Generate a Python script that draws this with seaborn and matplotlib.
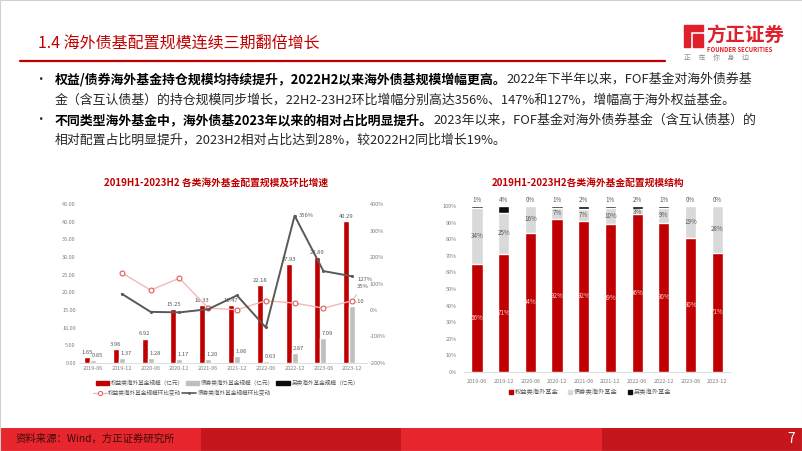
import numpy as np
import pandas as pd
import matplotlib
matplotlib.use('Agg')
import matplotlib.pyplot as plt
import seaborn as sns
from matplotlib.patches import Rectangle, Polygon
from matplotlib.lines import Line2D
from matplotlib.ticker import FuncFormatter

# data
periods = ['2019-06', '2019-12', '2020-06', '2020-12', '2021-06',
           '2021-12', '2022-06', '2022-12', '2023-06', '2023-12']
equity_size = [1.65, 3.96, 6.92, 15.25, 16.33, 16.47, 22.18, 27.93, 29.89, 40.29]
bond_size = [0.85, 1.37, 1.28, 1.17, 1.20, 1.86, 0.63, 2.87, 7.09, 16.10]
other_size = [0.03, 0.22, 0.02, 0.10, 0.36, 0.18, 0.40, 0.30, 0.05, 0.05]
equity_qoq = [np.nan, 140, 75, 120, 7, 1, 35, 26, 7, 35]
bond_qoq = [np.nan, 61, -7, -9, 3, 55, -66, 356, 147, 127]
equity_share = [66, 71, 84, 92, 92, 89, 96, 90, 80, 71]
bond_share = [34, 25, 16, 7, 7, 10, 3, 9, 19, 28]
other_share = [1, 4, 0, 1, 2, 1, 2, 1, 0, 0]

size_names = ['权益类海外基金规模（亿元）', '债券类海外基金规模（亿元）', '另类海外基金规模（亿元）']
qoq_names = ['权益类海外基金规模环比变动', '债券类海外基金规模环比变动']
share_names = ['权益类海外基金', '债券类海外基金', '另类海外基金']

RED = '#c00000'
GREY = '#bfbfbf'
LIGHT = '#d9d9d9'
BLACK = '#0d0d0d'
TICK = '#7f7f7f'

sns.set_theme(style='white')
plt.rcParams['font.family'] = ['Noto Sans CJK SC', 'DejaVu Sans']
plt.rcParams['axes.unicode_minus'] = False

W, H = 802, 451
fig = plt.figure(figsize=(W / 100, H / 100), dpi=100)
fig.patch.set_facecolor('white')


def fx(px):
    return px / W


def fy(py):
    return 1 - py / H


# ---- header ----
fig.text(fx(38), fy(44), '1.4 海外债基配置规模连续三期翻倍增长', color=RED, fontsize=11.5, va='center')
fig.add_artist(Line2D([fx(20), fx(665)], [fy(61), fy(61)], color=RED, lw=1.6))
fig.add_artist(Polygon([(fx(684), fy(25)), (fx(703), fy(25)), (fx(703), fy(31)), (fx(690), fy(31)),
                        (fx(690), fy(47)), (fx(684), fy(47))], closed=True, color='#e0202a'))
fig.add_artist(Polygon([(fx(693), fy(34)), (fx(703), fy(34)), (fx(703), fy(47)), (fx(693), fy(47))],
                       closed=True, color='#e0202a'))
fig.text(fx(706), fy(35), '方正证券', color='#e0202a', fontsize=14, fontweight='bold', va='center')
fig.text(fx(707), fy(49), 'FOUNDER SECURITIES', color='#e0202a', fontsize=4.3, fontweight='bold', va='center')
fig.text(fx(684), fy(58), '正     在     你     身     边', color='#8c8c8c', fontsize=5, va='center')

# ---- bullets ----
renderer = fig.canvas.get_renderer()


def rich_line(px, py, parts, size=9.3):
    x = fx(px)
    for s, bold in parts:
        t = fig.text(x, fy(py), s, fontsize=size, fontweight='bold' if bold else 'normal',
                     color='#000000' if bold else '#262626', va='center')
        x = t.get_window_extent(renderer=renderer).x1 / W


for py in (79, 120):
    fig.text(fx(34), fy(py), '•', fontsize=9, va='center', color='#262626')
rich_line(55, 79, [('权益/债券海外基金持仓规模均持续提升，2022H2以来海外债基规模增幅更高。', True),
                   ('2022年下半年以来，FOF基金对海外债券基', False)])
rich_line(55, 100, [('金（含互认债基）的持仓规模同步增长，22H2-23H2环比增幅分别高达356%、147%和127%，增幅高于海外权益基金。', False)])
rich_line(55, 120, [('不同类型海外基金中，海外债基2023年以来的相对占比明显提升。', True),
                    ('2023年以来，FOF基金对海外债券基金（含互认债基）的', False)])
rich_line(55, 140, [('相对配置占比明显提升，2023H2相对占比达到28%，较2022H2同比增长19%。', False)])

# ---- left chart: sizes + qoq ----
fig.text(fx(216), fy(183), '2019H1-2023H2 各类海外基金配置规模及环比增速', color=RED,
         fontsize=7, fontweight='bold', ha='center', va='center')
size_df = pd.DataFrame({
    'period': periods * 3,
    'type': [size_names[0]] * 10 + [size_names[1]] * 10 + [size_names[2]] * 10,
    'value': equity_size + bond_size + other_size,
})
ax1 = fig.add_axes([fx(78.6), fy(363), 288 / W, 159 / H])
sns.barplot(data=size_df, x='period', y='value', hue='type', hue_order=size_names,
            palette=[RED, GREY, BLACK], width=0.62, saturation=1, legend=False, ax=ax1)
ax1.set_ylim(0, 45)
ax1.set_yticks(np.arange(0, 46, 5))
ax1.yaxis.set_major_formatter(FuncFormatter(lambda v, p: f'{v:.2f}'))
ax1.set_xlabel('')
ax1.set_ylabel('')
ax1.bar_label(ax1.containers[0], labels=[f'{v:.2f}' for v in equity_size], fontsize=4.2,
              color='#595959', padding=1.5)
for bar, v in zip(ax1.containers[1], bond_size):
    ax1.annotate(f'{v:.2f}', (bar.get_x() + bar.get_width() / 2, bar.get_height()), xytext=(3, 1.5),
                 textcoords='offset points', ha='center', va='bottom', fontsize=4.2, color='#595959')

ax2 = ax1.twinx()
idx = np.arange(len(periods))
sns.lineplot(x=idx[1:], y=equity_qoq[1:], ax=ax2, color='#f4b8b8', lw=1, marker='o', markersize=3.5,
             markerfacecolor='white', markeredgecolor='#e05a5a', markeredgewidth=0.8)
sns.lineplot(x=idx[1:], y=bond_qoq[1:], ax=ax2, color='#595959', lw=1.4, marker='o', markersize=2.2,
             markeredgewidth=0)
ax2.set_ylim(-200, 400)
ax2.set_yticks(np.arange(-200, 401, 100))
ax2.yaxis.set_major_formatter(FuncFormatter(lambda v, p: f'{v:.0f}%'))
ax2.set_xlim(-0.5, len(periods) - 0.5)
ax2.annotate(f'{bond_qoq[7]}%', (7, bond_qoq[7]), xytext=(3, 0), textcoords='offset points',
             fontsize=4.2, color='#595959', va='center')
ax2.annotate(f'{bond_qoq[9]}%', (9, bond_qoq[9]), xytext=(4, -2), textcoords='offset points',
             fontsize=4.2, color='#595959', va='center')
ax2.annotate(f'{equity_qoq[9]}%', (9, equity_qoq[9]), xytext=(9.35, 88), textcoords='data',
             fontsize=4.2, color='#595959', va='center', ha='center',
             arrowprops=dict(arrowstyle='-', color='#a6a6a6', lw=0.5))

for ax in (ax1, ax2):
    for s in ax.spines.values():
        s.set_visible(False)
    ax.tick_params(axis='both', length=0, labelsize=4, labelcolor=TICK, pad=2)
ax1.spines['bottom'].set_visible(True)
ax1.spines['bottom'].set_color(LIGHT)
ax1.spines['bottom'].set_linewidth(0.6)

h_size = [Rectangle((0, 0), 1, 1, color=c) for c in (RED, GREY, BLACK)]
fig.legend(h_size, size_names, loc='center left', bbox_to_anchor=(fx(96), fy(383)), ncol=3,
           frameon=False, fontsize=4.1, handlelength=2.3, handleheight=0.8, columnspacing=0.4,
           handletextpad=0.3, labelcolor='#595959', borderaxespad=0, borderpad=0)
h_qoq = [Line2D([], [], color='#f4b8b8', lw=1, marker='o', markersize=3, markerfacecolor='white',
                markeredgecolor='#e05a5a', markeredgewidth=0.7),
         Line2D([], [], color='#595959', lw=1.2, marker='o', markersize=2, markeredgewidth=0)]
fig.legend(h_qoq, qoq_names, loc='center left', bbox_to_anchor=(fx(93), fy(393)), ncol=2,
           frameon=False, fontsize=4.1, handlelength=2.4, columnspacing=0.1,
           handletextpad=0.3, labelcolor='#595959', borderaxespad=0, borderpad=0)

# ---- right chart: structure ----
fig.text(fx(588), fy(183), '2019H1-2023H2各类海外基金配置规模结构', color=RED,
         fontsize=7, fontweight='bold', ha='center', va='center')
share = pd.DataFrame({'period': periods, 'eq': equity_share, 'bd': bond_share, 'ot': other_share})
total = share['eq'] + share['bd'] + share['ot']
share['top'] = 100.0
share['mid'] = (share['eq'] + share['bd']) / total * 100
share['low'] = share['eq'] / total * 100

ax3 = fig.add_axes([fx(463.6), fy(372), 267 / W, 166 / H])
sns.barplot(data=share, x='period', y='top', color=BLACK, width=0.42, saturation=1, ax=ax3)
sns.barplot(data=share, x='period', y='mid', color=LIGHT, width=0.42, saturation=1, ax=ax3)
sns.barplot(data=share, x='period', y='low', color=RED, width=0.42, saturation=1, ax=ax3)
ax3.set_ylim(0, 100)
ax3.set_yticks(np.arange(0, 101, 10))
ax3.yaxis.set_major_formatter(FuncFormatter(lambda v, p: f'{v:.0f}%'))
ax3.set_xlabel('')
ax3.set_ylabel('')
for i, r in share.iterrows():
    ax3.text(i, r['low'] / 2, f"{r['eq']}%", ha='center', va='center', fontsize=4.5, color='#fbd5d5')
    ax3.text(i, (r['low'] + r['mid']) / 2, f"{r['bd']}%", ha='center', va='center', fontsize=4.5,
             color='#595959')
    ax3.text(i, 101.5, f"{r['ot']}%", ha='center', va='bottom', fontsize=4.5, color='#595959',
             clip_on=False)
for s in ax3.spines.values():
    s.set_visible(False)
ax3.spines['bottom'].set_visible(True)
ax3.spines['bottom'].set_color(LIGHT)
ax3.spines['bottom'].set_linewidth(0.6)
ax3.tick_params(axis='both', length=0, labelsize=4, labelcolor=TICK, pad=5)

h_share = [Rectangle((0, 0), 1, 1, color=c) for c in (RED, LIGHT, BLACK)]
fig.legend(h_share, share_names, loc='center', bbox_to_anchor=(fx(590), fy(392)), ncol=3,
           frameon=False, fontsize=4.5, handlelength=0.6, handleheight=0.6, columnspacing=1.6,
           handletextpad=0.3, labelcolor='#595959', borderaxespad=0, borderpad=0)

# ---- footer ----
for i, c in enumerate(['#e8262d', '#c4161c', '#e8262d', '#c4161c']):
    fig.add_artist(Rectangle((fx(i * 200.5), 0), 200.5 / W, 23 / H, color=c, lw=0))
fig.text(fx(16), fy(439), '资料来源：Wind，方正证券研究所', fontsize=7.5, color='#3b0a0a',
         style='italic', va='center')
fig.text(fx(791), fy(439), '7', fontsize=10, color='white', ha='center', va='center')
fig.add_artist(Rectangle((0, 0), 1, 1, fill=False, ec='#d0d0d0', lw=0.8))

fig.savefig('out.png', dpi=100)
